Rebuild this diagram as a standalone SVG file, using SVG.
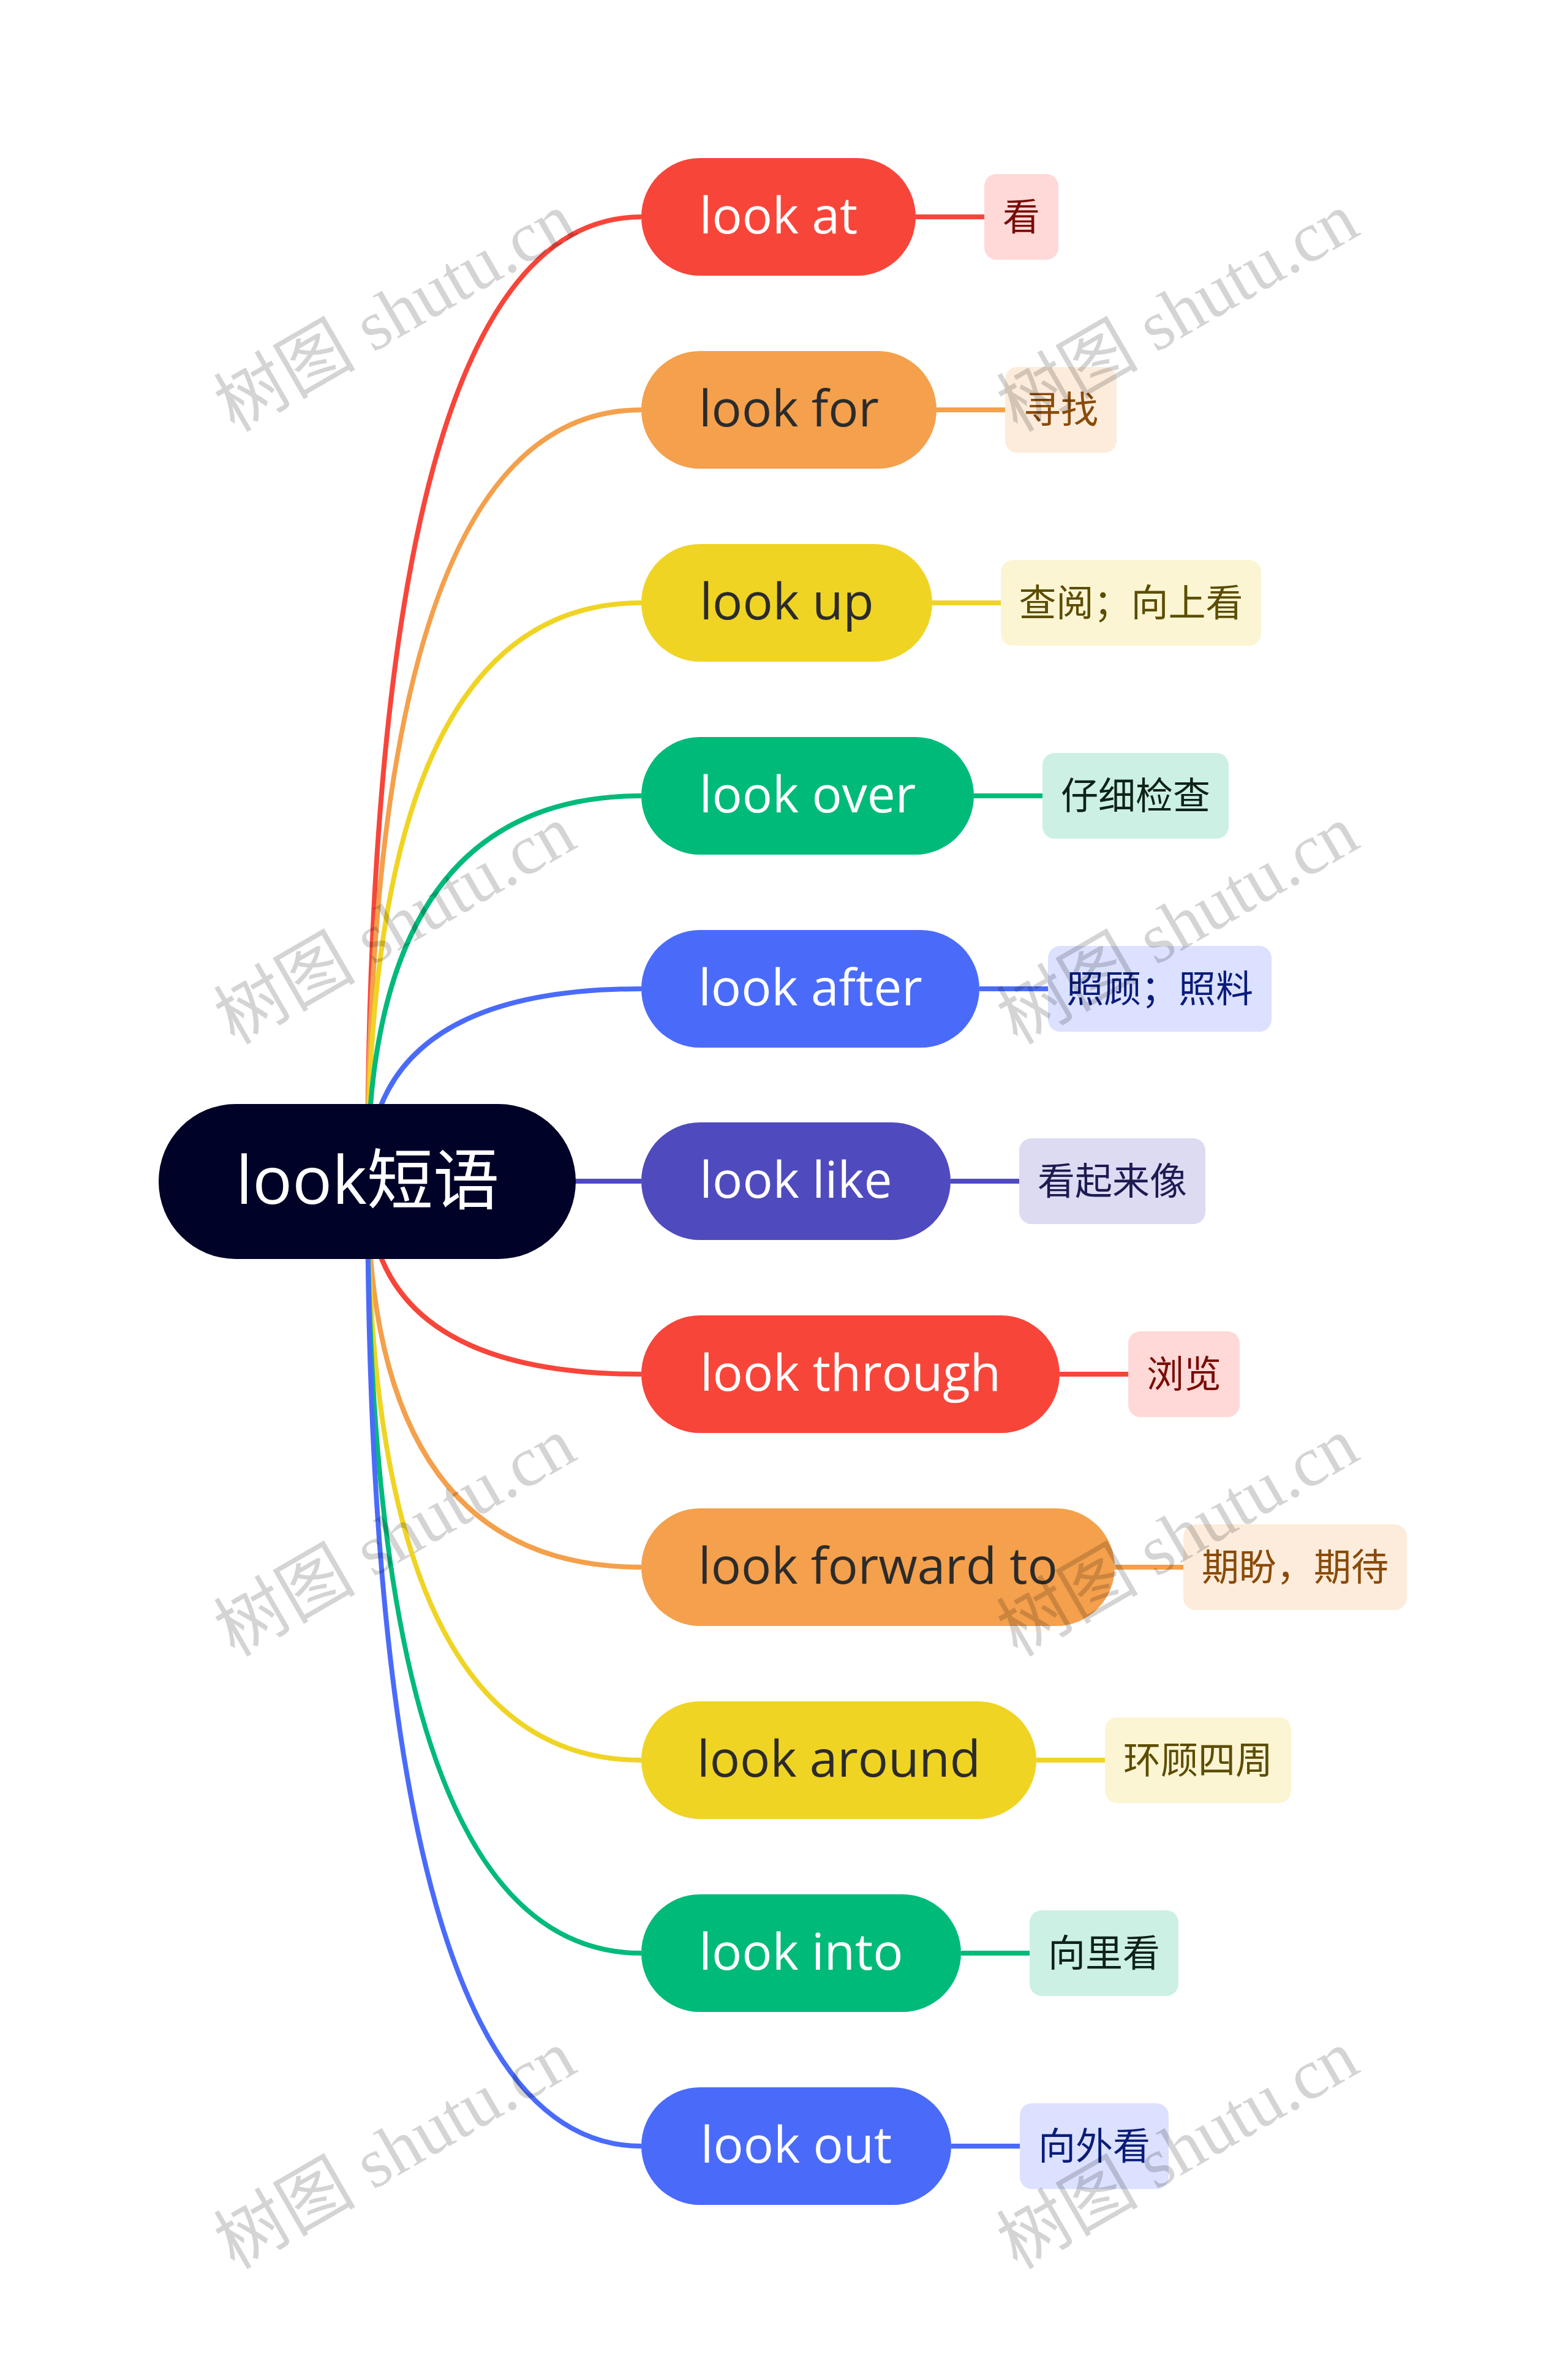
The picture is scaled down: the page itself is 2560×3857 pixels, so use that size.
<svg xmlns="http://www.w3.org/2000/svg" width="2560" height="3857" viewBox="0 0 2560 3857">
<style>
.mt{font-family:"Open Sans","Noto Sans","Noto Sans CJK SC",sans-serif;font-size:82px;text-anchor:middle}
.lt{font-family:"Noto Sans CJK SC","Noto Sans",sans-serif;font-size:61px;text-anchor:middle}
.rt{font-family:"Open Sans","Noto Sans CJK SC",sans-serif;font-size:108px;text-anchor:middle;fill:#FFFFFF}
.c{fill:none;stroke-width:8}
.wm{font-family:"Liberation Serif","Noto Sans CJK SC",serif;font-size:116px;text-anchor:middle;dominant-baseline:central;fill:#000000;fill-opacity:0.17}
.red{stroke:#F8453A}.org{stroke:#F4A04C}.yel{stroke:#F0D424}.grn{stroke:#00BA7A}.blu{stroke:#4A6BFA}.pur{stroke:#4F4BBE}
</style>
<rect x="0" y="0" width="2560" height="3857" fill="#FFFFFF"/>
<g id="connectors">
<path class="c red" d="M600 1928 Q600 354 1047 354"/>
<path class="c org" d="M600 1928 Q600 669 1047 669"/>
<path class="c yel" d="M600 1928 Q600 984 1047 984"/>
<path class="c grn" d="M600 1928 Q600 1299 1047 1299"/>
<path class="c blu" d="M600 1928 Q600 1614 1047 1614"/>
<path class="c pur" d="M600 1928 L1047 1928"/>
<path class="c red" d="M600 1928 Q600 2243 1047 2243"/>
<path class="c org" d="M600 1928 Q600 2558 1047 2558"/>
<path class="c yel" d="M600 1928 Q600 2873 1047 2873"/>
<path class="c grn" d="M600 1928 Q600 3188 1047 3188"/>
<path class="c blu" d="M600 1928 Q600 3503 1047 3503"/>
<path class="c red" d="M1495 354 L1607 354"/>
<path class="c org" d="M1529 669 L1641 669"/>
<path class="c yel" d="M1522 984 L1634 984"/>
<path class="c grn" d="M1590 1299 L1702 1299"/>
<path class="c blu" d="M1599 1614 L1711 1614"/>
<path class="c pur" d="M1552 1928 L1664 1928"/>
<path class="c red" d="M1730 2243 L1842 2243"/>
<path class="c org" d="M1820 2558 L1932 2558"/>
<path class="c yel" d="M1692 2873 L1804 2873"/>
<path class="c grn" d="M1569 3188 L1681 3188"/>
<path class="c blu" d="M1553 3503 L1665 3503"/>
</g>
<g id="root">
<rect x="259" y="1802" width="681" height="253" rx="126" fill="#000228"/>
<text class="rt" x="600" y="1965">look短语</text>
</g>
<g id="n1"><rect x="1047" y="258" width="448" height="192" rx="96" fill="#F8453A"/><text class="mt" x="1271" y="381" fill="#FFFFFF">look at</text></g>
<g id="n2"><rect x="1047" y="573" width="482" height="192" rx="96" fill="#F4A04C"/><text class="mt" x="1288" y="696" fill="#2B2B2B">look for</text></g>
<g id="n3"><rect x="1047" y="888" width="475" height="192" rx="96" fill="#F0D424"/><text class="mt" x="1284.5" y="1011" fill="#2B2B2B">look up</text></g>
<g id="n4"><rect x="1047" y="1203" width="543" height="192" rx="96" fill="#00BA7A"/><text class="mt" x="1318.5" y="1326" fill="#FFFFFF">look over</text></g>
<g id="n5"><rect x="1047" y="1518" width="552" height="192" rx="96" fill="#4A6BFA"/><text class="mt" x="1323" y="1641" fill="#FFFFFF">look after</text></g>
<g id="n6"><rect x="1047" y="1832" width="505" height="192" rx="96" fill="#4F4BBE"/><text class="mt" x="1299.5" y="1955" fill="#FFFFFF">look like</text></g>
<g id="n7"><rect x="1047" y="2147" width="683" height="192" rx="96" fill="#F8453A"/><text class="mt" x="1388.5" y="2270" fill="#FFFFFF">look through</text></g>
<g id="n8"><rect x="1047" y="2462" width="773" height="192" rx="96" fill="#F4A04C"/><text class="mt" x="1433.5" y="2585" fill="#2B2B2B">look forward to</text></g>
<g id="n9"><rect x="1047" y="2777" width="645" height="192" rx="96" fill="#F0D424"/><text class="mt" x="1369.5" y="2900" fill="#2B2B2B">look around</text></g>
<g id="n10"><rect x="1047" y="3092" width="522" height="192" rx="96" fill="#00BA7A"/><text class="mt" x="1308" y="3215" fill="#FFFFFF">look into</text></g>
<g id="n11"><rect x="1047" y="3407" width="506" height="192" rx="96" fill="#4A6BFA"/><text class="mt" x="1300" y="3530" fill="#FFFFFF">look out</text></g>
<g id="l1"><rect x="1607" y="284" width="121" height="140" rx="20" fill="#FED9D7"/><text class="lt" x="1667.5" y="376" fill="#7A0C06">看</text></g>
<g id="l2"><rect x="1641" y="599" width="182" height="140" rx="20" fill="#FDECDB"/><text class="lt" x="1732" y="691" fill="#8A4A08">寻找</text></g>
<g id="l3"><rect x="1634" y="914" width="425" height="140" rx="20" fill="#FCF5D3"/><text class="lt" x="1846.5" y="1006" fill="#5C4D00">查阅；向上看</text></g>
<g id="l4"><rect x="1702" y="1229" width="304" height="140" rx="20" fill="#CCF1E4"/><text class="lt" x="1854" y="1321" fill="#0E2219">仔细检查</text></g>
<g id="l5"><rect x="1711" y="1544" width="365" height="140" rx="20" fill="#DBE1FE"/><text class="lt" x="1893.5" y="1636" fill="#0A1C7A">照顾；照料</text></g>
<g id="l6"><rect x="1664" y="1858" width="304" height="140" rx="20" fill="#DCDBF2"/><text class="lt" x="1816" y="1950" fill="#1E1B52">看起来像</text></g>
<g id="l7"><rect x="1842" y="2173" width="182" height="140" rx="20" fill="#FED9D7"/><text class="lt" x="1933" y="2265" fill="#7A0C06">浏览</text></g>
<g id="l8"><rect x="1932" y="2488" width="365" height="140" rx="20" fill="#FDECDB"/><text class="lt" x="2114.5" y="2580" fill="#8A4A08">期盼，期待</text></g>
<g id="l9"><rect x="1804" y="2803" width="304" height="140" rx="20" fill="#FCF5D3"/><text class="lt" x="1956" y="2895" fill="#5C4D00">环顾四周</text></g>
<g id="l10"><rect x="1681" y="3118" width="243" height="140" rx="20" fill="#CCF1E4"/><text class="lt" x="1802.5" y="3210" fill="#0E2219">向里看</text></g>
<g id="l11"><rect x="1665" y="3433" width="243" height="140" rx="20" fill="#DBE1FE"/><text class="lt" x="1786.5" y="3525" fill="#0A1C7A">向外看</text></g>
<g id="watermark">
<text class="wm" x="645" y="510" transform="rotate(-30 645 510)">树图 shutu.cn</text>
<text class="wm" x="1923" y="510" transform="rotate(-30 1923 510)">树图 shutu.cn</text>
<text class="wm" x="645" y="1510" transform="rotate(-30 645 1510)">树图 shutu.cn</text>
<text class="wm" x="1923" y="1510" transform="rotate(-30 1923 1510)">树图 shutu.cn</text>
<text class="wm" x="645" y="2509" transform="rotate(-30 645 2509)">树图 shutu.cn</text>
<text class="wm" x="1923" y="2509" transform="rotate(-30 1923 2509)">树图 shutu.cn</text>
<text class="wm" x="645" y="3509" transform="rotate(-30 645 3509)">树图 shutu.cn</text>
<text class="wm" x="1923" y="3509" transform="rotate(-30 1923 3509)">树图 shutu.cn</text>
</g>
</svg>
